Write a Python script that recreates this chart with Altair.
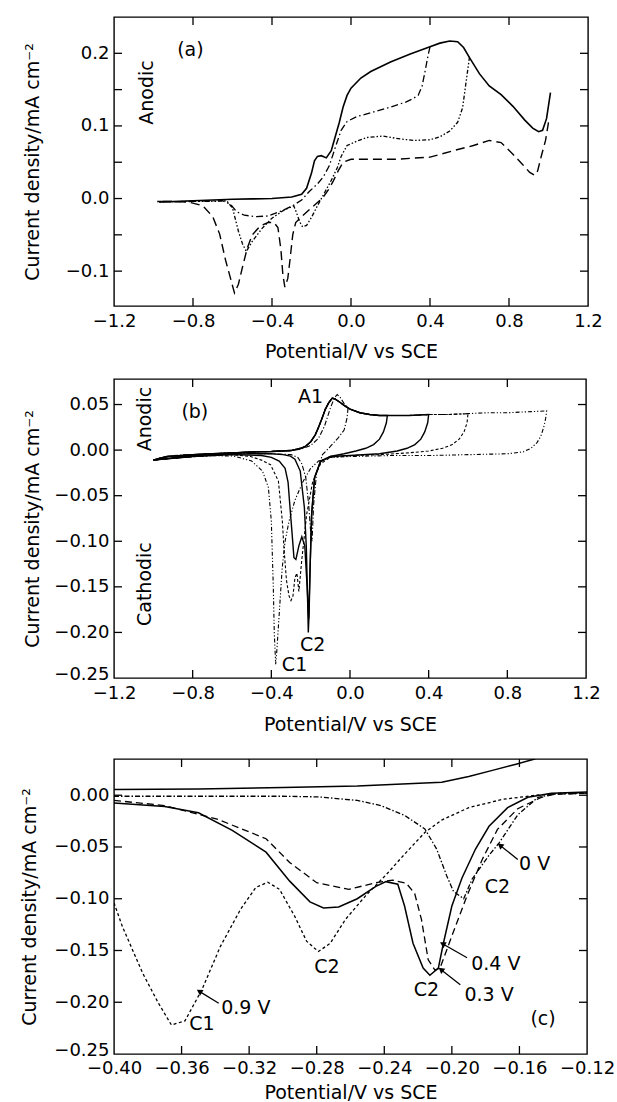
import math
import altair as alt
import pandas as pd

FONT = "DejaVu Sans"
MINUS = "\u2212"

# ---------------- panel (a) data ----------------
A_SOLID_X = [-0.98, -0.9, -0.8, -0.7, -0.6, -0.5, -0.4, -0.3, -0.25, -0.225, -0.2, -0.185, -0.17, -0.15, -0.125, -0.1,
             -0.08, -0.06, -0.04, -0.02, 0.0, 0.05, 0.1, 0.2, 0.3, 0.4, 0.45, 0.5, 0.54, 0.57, 0.6, 0.65,
             0.7, 0.76, 0.82, 0.88, 0.92, 0.95, 0.97, 0.99, 1.0, 1.01]
A_SOLID_Y = [-0.004, -0.004, -0.003, -0.002, -0.001, -0.0005, 0.0, 0.002, 0.006, 0.014, 0.035, 0.052, 0.058, 0.059, 0.056, 0.066,
             0.085, 0.104, 0.126, 0.142, 0.152, 0.166, 0.175, 0.188, 0.199, 0.209, 0.214, 0.217, 0.216, 0.208, 0.194, 0.172,
             0.155, 0.143, 0.127, 0.108, 0.097, 0.092, 0.094, 0.11, 0.128, 0.146]

A_DASHDOT_X = [0.40, 0.39, 0.375, 0.36, 0.34, 0.31, 0.28, 0.2, 0.1, 0.03, -0.02, -0.05, -0.08, -0.11, -0.14, -0.17,
               -0.21, -0.25, -0.29, -0.35, -0.42, -0.48, -0.54, -0.58, -0.61, -0.65, -0.8, -0.98]
A_DASHDOT_Y = [0.209, 0.197, 0.175, 0.155, 0.142, 0.137, 0.133, 0.126, 0.118, 0.113, 0.106, 0.094, 0.07, 0.045, 0.03, 0.02,
               0.01, -0.002, -0.009, -0.017, -0.024, -0.025, -0.023, -0.018, -0.008, -0.003, -0.004, -0.005]

A_DOTTED_X = [0.60, 0.59, 0.58, 0.565, 0.54, 0.5, 0.45, 0.4, 0.32, 0.25, 0.16, 0.08, 0.03, -0.02, -0.05, -0.07,
              -0.1, -0.13, -0.17, -0.2, -0.225, -0.245, -0.26, -0.275, -0.29, -0.34, -0.4, -0.45, -0.5, -0.53, -0.55, -0.57,
              -0.6, -0.63, -0.7, -0.85, -0.98]
A_DOTTED_Y = [0.195, 0.175, 0.155, 0.125, 0.105, 0.093, 0.085, 0.081, 0.08, 0.082, 0.086, 0.084, 0.079, 0.073, 0.058, 0.042,
              0.025, 0.01, -0.01, -0.026, -0.037, -0.039, -0.032, -0.02, -0.01, -0.016, -0.027, -0.041, -0.059, -0.073, -0.062, -0.045,
              -0.013, -0.003, -0.004, -0.004, -0.005]

A_LONGDASH_X = [1.0, 0.985, 0.965, 0.945, 0.93, 0.905, 0.865, 0.82, 0.76, 0.7, 0.62, 0.52, 0.4, 0.22, 0.06, 0.0,
                -0.04, -0.065, -0.09, -0.11, -0.14, -0.18, -0.21, -0.25, -0.28, -0.295, -0.31, -0.32, -0.335, -0.345, -0.355, -0.37,
                -0.39, -0.42, -0.46, -0.5, -0.525, -0.55, -0.57, -0.59, -0.61, -0.635, -0.665, -0.7, -0.75, -0.82, -0.9, -0.98]
A_LONGDASH_Y = [0.105, 0.08, 0.06, 0.038, 0.032, 0.036, 0.048, 0.061, 0.077, 0.08, 0.073, 0.066, 0.057, 0.054, 0.054, 0.054,
                0.05, 0.038, 0.024, 0.014, 0.002, -0.008, -0.015, -0.025, -0.033, -0.05, -0.087, -0.11, -0.122, -0.105, -0.07, -0.04,
                -0.033, -0.033, -0.038, -0.05, -0.068, -0.095, -0.118, -0.13, -0.11, -0.085, -0.049, -0.025, -0.01, -0.005, -0.004, -0.004]

A_TEXT = ["(a)"]
A_TEXT_X = [-0.813]
A_TEXT_Y = [0.204]
A_ROT_TEXT = ["Anodic"]
A_ROT_X = [-1.035]
A_ROT_Y = [0.146]

A_XLABELS = [-1.2, -0.8, -0.4, 0.0, 0.4, 0.8, 1.2]
A_YLABELS = [-0.1, 0.0, 0.1, 0.2]
A_XTICKS = [-0.8, -0.4, 0.0, 0.4, 0.8]
A_YTICKS = [-0.1, -0.05, 0.0, 0.05, 0.1, 0.15, 0.2]

# ---------------- panel (b) data ----------------
B_FWD_X = [-1.0, -0.97, -0.93, -0.87, -0.8, -0.7, -0.6, -0.5, -0.4, -0.3, -0.25, -0.227, -0.2, -0.176, -0.16, -0.142,
           -0.125, -0.108, -0.09, -0.075, -0.055, -0.03, 0.0, 0.05, 0.1, 0.15, 0.2, 0.3, 0.4, 0.5, 0.6, 0.7,
           0.8, 0.9, 1.0]
B_FWD_Y = [-0.011, -0.009, -0.007, -0.006, -0.005, -0.004, -0.003, -0.002, -0.0015, -0.0005, 0.002, 0.004, 0.009, 0.017, 0.025, 0.035,
           0.045, 0.052, 0.057, 0.056, 0.053, 0.049, 0.045, 0.041, 0.039, 0.038, 0.038, 0.038, 0.039, 0.039, 0.04, 0.041,
           0.041, 0.042, 0.043]
B_FWD0_X = [-1.0, -0.9, -0.8, -0.6, -0.4, -0.3, -0.25, -0.2, -0.16, -0.13, -0.1, -0.08, -0.065, -0.05, -0.03]
B_FWD0_Y = [-0.011, -0.006, -0.005, -0.003, -0.0015, -0.0005, 0.001, 0.005, 0.013, 0.026, 0.046, 0.057, 0.061, 0.058, 0.051]

B_REV10_X = [1.0, 0.995, 0.985, 0.97, 0.95, 0.92, 0.88, 0.8, 0.6, 0.4, 0.2, 0.0, -0.1, -0.16, -0.2, -0.24,
             -0.28, -0.31, -0.33, -0.345, -0.36, -0.372, -0.378, -0.385, -0.39, -0.40, -0.415, -0.445, -0.5, -0.59, -0.7, -0.85, -1.0]
B_REV10_Y = [0.043, 0.035, 0.025, 0.015, 0.008, 0.002, -0.002, -0.004, -0.005, -0.006, -0.006, -0.007, -0.008, -0.012, -0.02, -0.035,
             -0.055, -0.078, -0.1, -0.13, -0.18, -0.22, -0.235, -0.2, -0.15, -0.078, -0.041, -0.023, -0.012, -0.0066, -0.006, -0.008, -0.011]
B_REV06_X = [0.6, 0.595, 0.58, 0.555, 0.52, 0.47, 0.4, 0.3, 0.15, 0.0, -0.1, -0.15, -0.19, -0.22, -0.245, -0.26,
             -0.27, -0.28, -0.29, -0.3, -0.31, -0.323, -0.335, -0.344, -0.364, -0.404, -0.45, -0.506, -0.6, -0.8, -1.0]
B_REV06_Y = [0.04, 0.03, 0.02, 0.012, 0.006, 0.002, -0.001, -0.003, -0.005, -0.006, -0.008, -0.015, -0.035, -0.07, -0.12, -0.155,
             -0.135, -0.14, -0.16, -0.165, -0.16, -0.143, -0.11, -0.078, -0.034, -0.016, -0.011, -0.007, -0.005, -0.007, -0.011]
B_REV04_X = [0.4, 0.395, 0.38, 0.36, 0.33, 0.29, 0.24, 0.15, 0.0, -0.1, -0.15, -0.18, -0.195, -0.203, -0.21, -0.218,
             -0.23, -0.245, -0.26, -0.275, -0.285, -0.295, -0.305, -0.315, -0.33, -0.36, -0.4, -0.45, -0.6, -0.8, -1.0]
B_REV04_Y = [0.039, 0.03, 0.02, 0.012, 0.006, 0.002, -0.001, -0.004, -0.006, -0.007, -0.012, -0.03, -0.07, -0.13, -0.185, -0.15,
             -0.105, -0.095, -0.105, -0.12, -0.118, -0.09, -0.063, -0.035, -0.02, -0.012, -0.008, -0.006, -0.005, -0.007, -0.011]
B_REV02_X = [0.19, 0.185, 0.17, 0.15, 0.12, 0.08, 0.03, -0.03, -0.1, -0.15, -0.18, -0.195, -0.203, -0.208, -0.212, -0.216,
             -0.222, -0.232, -0.253, -0.28, -0.303, -0.34, -0.4, -0.5, -0.7, -0.85, -1.0]
B_REV02_Y = [0.038, 0.03, 0.02, 0.012, 0.006, 0.002, -0.001, -0.004, -0.007, -0.013, -0.03, -0.07, -0.13, -0.18, -0.2, -0.16,
             -0.107, -0.063, -0.023, -0.01, -0.0066, -0.005, -0.004, -0.004, -0.005, -0.007, -0.011]
B_REV00_X = [-0.01, -0.015, -0.03, -0.06, -0.1, -0.14, -0.17, -0.185, -0.193, -0.2, -0.21, -0.225, -0.245, -0.265, -0.3, -0.4,
             -0.6, -0.8, -1.0]
B_REV00_Y = [0.046, 0.035, 0.022, 0.0135, 0.004, -0.005, -0.025, -0.06, -0.1, -0.09, -0.06, -0.03, -0.015, -0.008, -0.005, -0.004,
             -0.004, -0.007, -0.011]

B_TEXT = ["(b)", "A1", "C2", "C1"]
B_TEXT_X = [-0.789, -0.2, -0.19, -0.282]
B_TEXT_Y = [0.042, 0.058, -0.214, -0.236]
B_ROT_TEXT = ["Anodic", "Cathodic"]
B_ROT_X = [-1.04, -1.04]
B_ROT_Y = [0.034, -0.147]

B_XLABELS = [-1.2, -0.8, -0.4, 0.0, 0.4, 0.8, 1.2]
B_YLABELS = [-0.25, -0.2, -0.15, -0.1, -0.05, 0.0, 0.05]
B_XTICKS = [-0.8, -0.4, 0.0, 0.4, 0.8]
B_YTICKS = [-0.2, -0.15, -0.1, -0.05, 0.0, 0.05]

# ---------------- panel (c) data ----------------
C_TOP_X = [-0.40, -0.35, -0.3, -0.256, -0.206, -0.19, -0.176, -0.162, -0.151, -0.146]
C_TOP_Y = [0.0055, 0.006, 0.0075, 0.009, 0.0126, 0.018, 0.024, 0.03, 0.035, 0.04]
C_SOLID_X = [-0.40, -0.37, -0.35, -0.33, -0.31, -0.296, -0.284, -0.276, -0.267, -0.256, -0.245, -0.239, -0.232, -0.228, -0.223, -0.217,
             -0.213, -0.208, -0.205, -0.2, -0.194, -0.186, -0.178, -0.167, -0.155, -0.141, -0.12]
C_SOLID_Y = [-0.0075, -0.011, -0.017, -0.034, -0.055, -0.083, -0.103, -0.109, -0.108, -0.1, -0.088, -0.0835, -0.086, -0.107, -0.143, -0.167,
             -0.174, -0.167, -0.143, -0.107, -0.08, -0.052, -0.03, -0.012, -0.002, 0.002, 0.003]
C_DASH_X = [-0.40, -0.37, -0.339, -0.31, -0.296, -0.28, -0.261, -0.245, -0.235, -0.227, -0.222, -0.218, -0.214, -0.21, -0.207, -0.2,
            -0.191, -0.182, -0.173, -0.161, -0.147, -0.139, -0.12]
C_DASH_Y = [-0.005, -0.01, -0.023, -0.042, -0.065, -0.0845, -0.091, -0.0845, -0.082, -0.085, -0.095, -0.12, -0.159, -0.169, -0.167, -0.136,
            -0.097, -0.062, -0.033, -0.013, -0.002, 0.001, 0.002]
C_DOT_X = [-0.40, -0.395, -0.383, -0.374, -0.366, -0.358, -0.348, -0.337, -0.325, -0.316, -0.309, -0.302, -0.293, -0.286, -0.279, -0.272,
           -0.263, -0.251, -0.239, -0.228, -0.216, -0.206, -0.19, -0.17, -0.15, -0.135, -0.12]
C_DOT_Y = [-0.104, -0.127, -0.172, -0.2, -0.222, -0.218, -0.188, -0.146, -0.11, -0.089, -0.084, -0.091, -0.117, -0.141, -0.151, -0.143,
           -0.12, -0.097, -0.077, -0.057, -0.036, -0.024, -0.012, -0.004, 0.0, 0.002, 0.002]
C_DD_X = [-0.40, -0.35, -0.3, -0.279, -0.256, -0.242, -0.228, -0.216, -0.209, -0.203, -0.199, -0.193, -0.188, -0.178, -0.172, -0.161,
          -0.149, -0.14, -0.12]
C_DD_Y = [-0.001, -0.001, -0.001, -0.0016, -0.005, -0.01, -0.0195, -0.0325, -0.052, -0.078, -0.093, -0.1, -0.081, -0.058, -0.046, -0.019,
          -0.002, 0.001, 0.002]

C_TEXT = ["C1", "0.9 V", "C2", "C2", "0.4 V", "0.3 V", "0 V", "C2", "(c)"]
C_TEXT_X = [-0.348, -0.322, -0.274, -0.215, -0.174, -0.178, -0.151, -0.173, -0.146]
C_TEXT_Y = [-0.221, -0.206, -0.166, -0.188, -0.163, -0.193, -0.066, -0.089, -0.216]
C_ARROW_TAIL_X = [-0.338, -0.191, -0.195, -0.161]
C_ARROW_TAIL_Y = [-0.201, -0.157, -0.183, -0.062]
C_ARROW_TIP_X = [-0.349, -0.205, -0.206, -0.171]
C_ARROW_TIP_Y = [-0.19, -0.144, -0.169, -0.049]

C_XLABELS = [-0.40, -0.36, -0.32, -0.28, -0.24, -0.20, -0.16, -0.12]
C_YLABELS = [-0.25, -0.2, -0.15, -0.1, -0.05, 0.0]
C_XTICKS = [-0.36, -0.32, -0.28, -0.24, -0.20, -0.16]
C_YTICKS = [-0.2, -0.15, -0.1, -0.05, 0.0]

YTITLE = "Current density/mA cm\u207b\u00b2"
XTITLE = "Potential/V vs SCE"


def curve_df(xs, ys):
    return pd.DataFrame({"x": xs, "y": ys, "o": list(range(len(xs)))})


def loop(fx, fy, rx, ry):
    xs = [a for a in fx if a < rx[0]] + list(rx)
    ys = [b for a, b in zip(fx, fy) if a < rx[0]] + list(ry)
    return xs, ys


def lab_expr(fmt):
    return "replace(format(datum.value, '%s'), '-', '%s')" % (fmt, MINUS)


def panel(W, H, xdom, ydom, xlabels, xfmt, ylabels, yfmt, ytitle_x, xtitle_y, xlabel_pad,
          curves, texts, rot_texts, xticks, yticks, arrows=None):
    xs = alt.Scale(domain=xdom, nice=False, zero=False)
    ys = alt.Scale(domain=ydom, nice=False, zero=False)
    xaxis = alt.Axis(values=xlabels, labelExpr=lab_expr(xfmt), title=XTITLE, grid=False, domain=False, ticks=False,
                     tickSize=0, labelPadding=xlabel_pad, labelFlush=False, labelOverlap=False,
                     labelFont=FONT, labelFontSize=18, labelColor="black",
                     titleFont=FONT, titleFontSize=19, titleFontWeight="normal", titleColor="black",
                     titleY=xtitle_y, titleBaseline="alphabetic")
    yaxis = alt.Axis(values=ylabels, labelExpr=lab_expr(yfmt), title=YTITLE, grid=False, domain=False, ticks=False,
                     tickSize=0, labelPadding=5, labelFlush=False, labelOverlap=False,
                     labelOffset={"condition": {"test": "datum.value <= -0.249", "value": -4}, "value": 0},
                     labelFont=FONT, labelFontSize=18, labelColor="black",
                     titleFont=FONT, titleFontSize=19, titleFontWeight="normal", titleColor="black",
                     titleX=ytitle_x, titleAngle=270, titleBaseline="middle", titleAlign="center")
    Xn = alt.X("x:Q", scale=xs, axis=xaxis, title=XTITLE)
    Yn = alt.Y("y:Q", scale=ys, axis=yaxis, title=YTITLE)
    layers = []
    for cx, cy, dash, sw in curves:
        kw = dict(color="black", strokeWidth=sw, clip=True)
        if dash:
            kw["strokeDash"] = dash
        layers.append(alt.Chart(curve_df(cx, cy)).mark_line(**kw).encode(
            x=Xn, y=Yn, order=alt.Order("o:Q")))
    L = 8
    dfx = pd.DataFrame({"x": xticks})
    dfy = pd.DataFrame({"y": yticks})
    layers.append(alt.Chart(dfx).mark_rule(color="black", strokeWidth=1.3).encode(
        x=Xn, y=alt.value(H - L), y2=alt.value(H)))
    layers.append(alt.Chart(dfx).mark_rule(color="black", strokeWidth=1.3).encode(
        x=Xn, y=alt.value(0), y2=alt.value(L)))
    layers.append(alt.Chart(dfy).mark_rule(color="black", strokeWidth=1.3).encode(
        y=Yn, x=alt.value(0), x2=alt.value(L)))
    layers.append(alt.Chart(dfy).mark_rule(color="black", strokeWidth=1.3).encode(
        y=Yn, x=alt.value(W - L), x2=alt.value(W)))
    t, tx, ty = texts
    layers.append(alt.Chart(pd.DataFrame({"x": tx, "y": ty, "t": t})).mark_text(
        font=FONT, fontSize=19, color="black").encode(x=Xn, y=Yn, text="t:N"))
    t, tx, ty = rot_texts
    if t:
        layers.append(alt.Chart(pd.DataFrame({"x": tx, "y": ty, "t": t})).mark_text(
            font=FONT, fontSize=19, color="black", angle=270).encode(x=Xn, y=Yn, text="t:N"))
    if arrows:
        txs, tys, pxs, pys = arrows
        kx = W / (xdom[1] - xdom[0])
        ky = H / (ydom[1] - ydom[0])
        seg = {"x": [], "y": [], "g": []}
        heads = {"x": [], "y": [], "a": []}
        for k, (ax, ay, bx, by) in enumerate(zip(txs, tys, pxs, pys)):
            seg["x"] += [ax, bx]
            seg["y"] += [ay, by]
            seg["g"] += [k, k]
            dx = (bx - ax) * kx
            dy = -(by - ay) * ky
            ang = math.degrees(math.atan2(dx, -dy)) % 360
            heads["x"].append(bx)
            heads["y"].append(by)
            heads["a"].append(ang)
        layers.append(alt.Chart(pd.DataFrame(seg)).mark_line(color="black", strokeWidth=1.3).encode(
            x=Xn, y=Yn, detail="g:N"))
        layers.append(alt.Chart(pd.DataFrame(heads)).mark_point(
            shape="triangle", filled=True, size=45, color="black", opacity=1).encode(
            x=Xn, y=Yn, angle=alt.Angle("a:Q", scale=None)))
    return alt.layer(*layers).properties(width=W, height=H)


# ---- build panels ----
a_curves = [
    (A_SOLID_X, A_SOLID_Y, None, 1.6),
    (A_DASHDOT_X, A_DASHDOT_Y, [7, 3, 1.5, 3], 1.3),
    (A_DOTTED_X, A_DOTTED_Y, [4, 2, 1.5, 2, 1.5, 2], 1.3),
    (A_LONGDASH_X, A_LONGDASH_Y, [9, 5], 1.4),
]
pa = panel(474, 289, [-1.2, 1.2], [-0.148, 0.25], A_XLABELS, ".1f", A_YLABELS, ".1f", -82, 51, 6,
           a_curves, (A_TEXT, A_TEXT_X, A_TEXT_Y), (A_ROT_TEXT, A_ROT_X, A_ROT_Y), A_XTICKS, A_YTICKS)

b10 = loop(B_FWD_X, B_FWD_Y, B_REV10_X, B_REV10_Y)
b06 = loop(B_FWD_X, B_FWD_Y, B_REV06_X, B_REV06_Y)
b04 = loop(B_FWD_X, B_FWD_Y, B_REV04_X, B_REV04_Y)
b02 = loop(B_FWD_X, B_FWD_Y, B_REV02_X, B_REV02_Y)
b00 = loop(B_FWD0_X, B_FWD0_Y, B_REV00_X, B_REV00_Y)
b_curves = [
    (b04[0], b04[1], None, 1.4),
    (b02[0], b02[1], None, 1.4),
    (b10[0], b10[1], [4, 2, 1.2, 2, 1.2, 2], 1.1),
    (b06[0], b06[1], [3, 2], 1.1),
    (b00[0], b00[1], [5, 2, 1.2, 2], 1.1),
]
pb = panel(472, 299, [-1.2, 1.2], [-0.25, 0.078], B_XLABELS, ".1f", B_YLABELS, ".2f", -82, 52, 6,
           b_curves, (B_TEXT, B_TEXT_X, B_TEXT_Y), (B_ROT_TEXT, B_ROT_X, B_ROT_Y), B_XTICKS, B_YTICKS)

c_curves = [
    (C_SOLID_X, C_SOLID_Y, None, 1.5),
    (C_TOP_X, C_TOP_Y, None, 1.5),
    (C_DASH_X, C_DASH_Y, [7, 4], 1.3),
    (C_DOT_X, C_DOT_Y, [3, 2.5], 1.3),
    (C_DD_X, C_DD_Y, [5, 2, 1.5, 2], 1.3),
]
pc = panel(473, 295, [-0.40, -0.12], [-0.25, 0.035], C_XLABELS, ".2f", C_YLABELS, ".2f", -85, 44, 5,
           c_curves, (C_TEXT, C_TEXT_X, C_TEXT_Y), ([], [], []), C_XTICKS, C_YTICKS,
           arrows=(C_ARROW_TAIL_X, C_ARROW_TAIL_Y, C_ARROW_TIP_X, C_ARROW_TIP_Y))

chart = alt.vconcat(
    pa,
    alt.vconcat(pb, pc, spacing=81, bounds="flush"),
    spacing=73, bounds="flush",
).properties(
    padding={"left": 19, "top": 15, "right": 1, "bottom": 0},
    background="white",
).configure_view(stroke="black", strokeWidth=1.4)

chart.save("out.html", embed_options={"renderer": "svg", "actions": False})
